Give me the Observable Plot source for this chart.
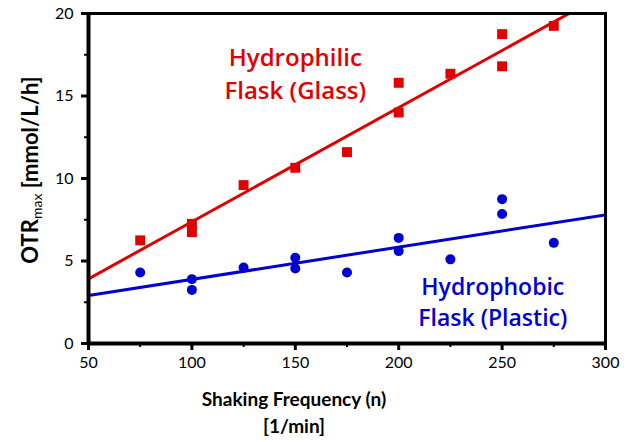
<!DOCTYPE html>
<html>
<head>
<meta charset="utf-8">
<script src="https://cdn.jsdelivr.net/npm/d3@7"></script>
<script src="https://cdn.jsdelivr.net/npm/@observablehq/plot@0.6"></script>
<style>
  html, body { margin: 0; padding: 0; background: #fff; }
</style>
</head>
<body>
<div id="chart"></div>
<script>
// Data
const glassX = [75, 100, 100, 125, 150, 175, 200, 200, 225, 250, 250, 275];
const glassY = [6.25, 7.25, 6.75, 9.6, 10.65, 11.6, 15.8, 14.0, 16.35, 18.75, 16.8, 19.25];
const plasticX = [75, 100, 100, 125, 150, 150, 175, 200, 200, 225, 250, 250, 275];
const plasticY = [4.3, 3.9, 3.25, 4.6, 5.2, 4.55, 4.3, 6.4, 5.6, 5.1, 8.75, 7.85, 6.1];
// Fitted trend lines (slope, intercept)
const glassFit = [0.0692, 0.46];
const plasticFit = [0.01956, 1.93];
const fitRange = [50, 300];
const xMajor = [50, 100, 150, 200, 250, 300];
const xMinor = [75, 125, 175, 225, 275];
const yMajor = [0, 5, 10, 15, 20];
const yMinor = [2.5, 7.5, 12.5, 17.5];

const red = "#e00000";
const blue = "#0000d0";
const font = "Lato, 'Open Sans', sans-serif";
const annoFont = "'Open Sans', Lato, sans-serif";

const glass = glassX.map((x, i) => ({x, y: glassY[i]}));
const plastic = plasticX.map((x, i) => ({x, y: plasticY[i]}));
const glassLine = fitRange.map(x => ({x, y: glassFit[0] * x + glassFit[1]}));
const plasticLine = fitRange.map(x => ({x, y: plasticFit[0] * x + plasticFit[1]}));

const plot = Plot.plot({
  width: 635,
  height: 442,
  marginLeft: 88,
  marginRight: 30,
  marginTop: 13,
  marginBottom: 99,
  style: {fontFamily: font, fontSize: "16px", background: "#fff", color: "#000"},
  x: {domain: [50, 300]},
  y: {domain: [0, 20]},
  marks: [
    Plot.line(glassLine, {x: "x", y: "y", stroke: red, strokeWidth: 3, clip: true}),
    Plot.line(plasticLine, {x: "x", y: "y", stroke: blue, strokeWidth: 3, clip: true}),
    Plot.dot(glass, {x: "x", y: "y", symbol: "square", r: 5.6, fill: red, stroke: "none"}),
    Plot.dot(plastic, {x: "x", y: "y", symbol: "circle", r: 5, fill: blue, stroke: "none"}),
    Plot.frame({stroke: "#000", strokeWidth: 3}),
    Plot.ruleX([50], {stroke: "#000", strokeWidth: 4}),
    Plot.ruleY([0], {stroke: "#000", strokeWidth: 4}),
    Plot.axisX(xMajor, {tickSize: 7, tickPadding: 6, strokeWidth: 3, fontSize: 16, label: null}),
    Plot.axisX(xMinor, {tickSize: 4, strokeWidth: 2, text: null, label: null}),
    Plot.axisY(yMajor, {tickSize: 7, tickPadding: 8, strokeWidth: 3, fontSize: 16, label: null}),
    Plot.axisY(yMinor, {tickSize: 4, strokeWidth: 2, text: null, label: null}),
    Plot.text(["Hydrophilic", "Flask (Glass)"], {
      x: [150, 150], y: [17.3, 15.3], text: d => d,
      fill: red, fontSize: 24, fontWeight: 600, fontFamily: annoFont, textAnchor: "middle"
    }),
    Plot.text(["Hydrophobic", "Flask (Plastic)"], {
      x: [245.5, 245.5], y: [3.4, 1.5], text: d => d,
      fill: blue, fontSize: 23, fontWeight: 600, fontFamily: annoFont, textAnchor: "middle"
    })
  ]
});

const svg = d3.select(plot);
svg.append("text")
  .attr("x", 294).attr("y", 406)
  .attr("text-anchor", "middle")
  .attr("font-family", font)
  .attr("font-weight", "bold").attr("font-size", 19)
  .attr("fill", "#000")
  .text("Shaking Frequency (n)");
svg.append("text")
  .attr("x", 294).attr("y", 433)
  .attr("text-anchor", "middle")
  .attr("font-family", font)
  .attr("font-weight", "bold").attr("font-size", 19)
  .attr("fill", "#000")
  .text("[1/min]");
const yl = svg.append("text")
  .attr("transform", "translate(38,170) rotate(-90)")
  .attr("text-anchor", "middle")
  .attr("font-family", font)
  .attr("font-weight", "bold").attr("font-size", 22)
  .attr("fill", "#000");
yl.append("tspan").text("OTR");
yl.append("tspan").attr("font-size", 14).attr("font-weight", "normal").attr("dy", 4).text("max");
yl.append("tspan").attr("dy", -4).text(" [mmol/L/h]");

document.getElementById("chart").appendChild(plot);
</script>
</body>
</html>
